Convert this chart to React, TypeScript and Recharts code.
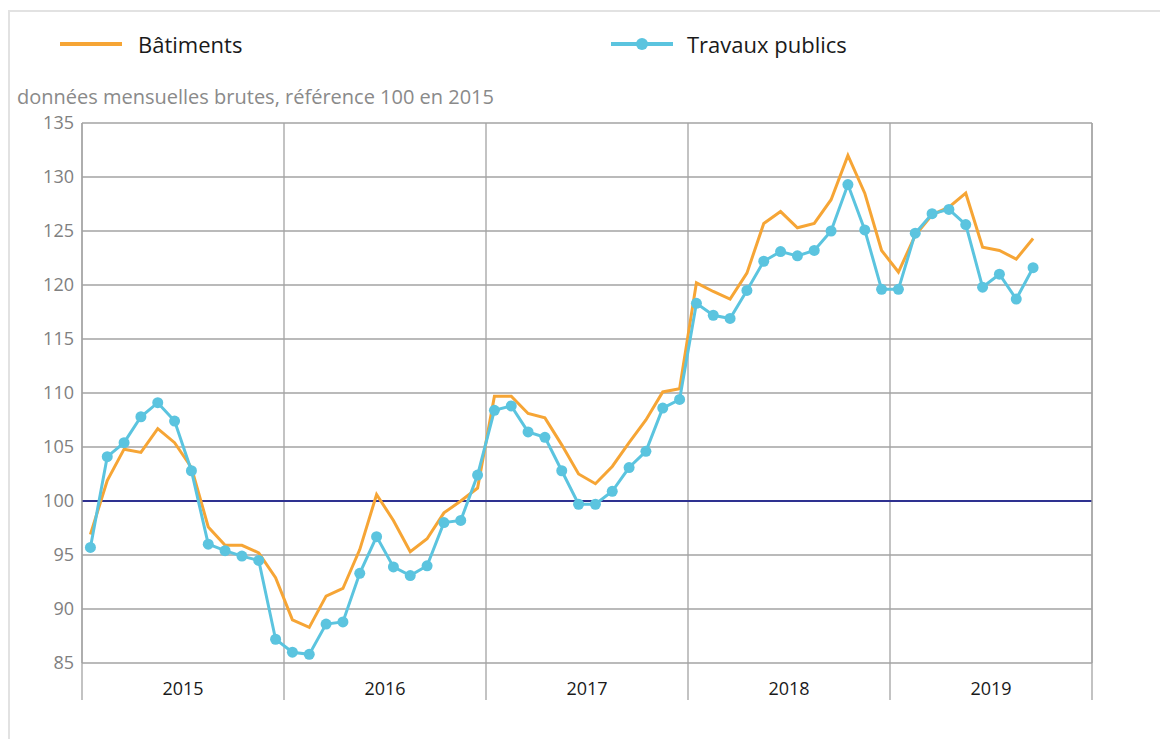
import React from "react";
import {
  LineChart,
  Line,
  XAxis,
  YAxis,
  CartesianGrid,
  ReferenceLine,
} from "recharts";

const years = ["2015", "2016", "2017", "2018", "2019"];

const batiments = [
  96.9, 101.9, 104.8, 104.5, 106.7, 105.4, 103.1, 97.6, 95.9, 95.9, 95.2, 92.9,
  89.0, 88.3, 91.2, 91.9, 95.5, 100.6, 98.2, 95.3, 96.5, 98.9, 100.0, 101.2,
  109.7, 109.7, 108.1, 107.7, 105.2, 102.5, 101.6, 103.2, 105.4, 107.5, 110.1, 110.4,
  120.2, 119.4, 118.7, 121.1, 125.7, 126.8, 125.3, 125.7, 127.9, 132.0, 128.5, 123.2,
  121.2, 124.6, 126.5, 127.2, 128.5, 123.5, 123.2, 122.4, 124.3,
];

const travauxPublics = [
  95.7, 104.1, 105.4, 107.8, 109.1, 107.4, 102.8, 96.0, 95.4, 94.9, 94.5, 87.2,
  86.0, 85.8, 88.6, 88.8, 93.3, 96.7, 93.9, 93.1, 94.0, 98.0, 98.2, 102.4,
  108.4, 108.8, 106.4, 105.9, 102.8, 99.7, 99.7, 100.9, 103.1, 104.6, 108.6, 109.4,
  118.3, 117.2, 116.9, 119.5, 122.2, 123.1, 122.7, 123.2, 125.0, 129.3, 125.1, 119.6,
  119.6, 124.8, 126.6, 127.0, 125.6, 119.8, 121.0, 118.7, 121.6,
];

const yTicks = [85, 90, 95, 100, 105, 110, 115, 120, 125, 130, 135];
const yearBoundaries = [0, 12, 24, 36, 48, 60];
const xTicks = [0, 6, 12, 18, 24, 30, 36, 42, 48, 54, 60];

const data = batiments.map((b, i) => ({
  x: i + 0.5,
  batiments: b,
  travaux: travauxPublics[i],
}));

const ORANGE = "#F6A535";
const BLUE = "#5BC4DF";
const NAVY = "#2E3190";
const GRID = "#a3a3a3";
const FONT = "'Open Sans', 'Noto Sans', sans-serif";

const YearTick = (props: any) => {
  const { x, y, payload } = props;
  const v = payload.value as number;
  if (v % 12 === 0) {
    return (
      <line x1={x} x2={x} y1={y} y2={y + 37} stroke={GRID} strokeWidth={1.3} />
    );
  }
  return (
    <text
      x={x}
      y={y + 25}
      textAnchor="middle"
      dominantBaseline="central"
      fill="#1a1a1a"
      fontSize={18}
      fontFamily={FONT}
    >
      {years[Math.floor(v / 12)]}
    </text>
  );
};

export default function App() {
  return (
    <div
      style={{
        position: "relative",
        width: 1152,
        height: 731,
        overflow: "hidden",
        fontFamily: FONT,
      }}
    >
      <div
        style={{
          position: "absolute",
          top: 2,
          left: 0,
          width: 1170,
          height: 760,
          borderTop: "2px solid #e2e2e2",
          borderLeft: "2px solid #e2e2e2",
          boxSizing: "border-box",
        }}
      />
      {/* Legend */}
      <div style={{ position: "absolute", top: 24, left: 52, height: 24, width: 1000 }}>
        <svg
          width={64}
          height={24}
          style={{ position: "absolute", left: 0, top: 0 }}
        >
          <line x1={0} y1={12} x2={62} y2={12} stroke={ORANGE} strokeWidth={4} />
        </svg>
        <div
          style={{
            position: "absolute",
            left: 78,
            top: 0,
            fontSize: 22,
            lineHeight: "24px",
            color: "#1a1a1a",
            whiteSpace: "nowrap",
          }}
        >
          Bâtiments
        </div>
        <svg
          width={64}
          height={24}
          style={{ position: "absolute", left: 551, top: 0 }}
        >
          <line x1={0} y1={12} x2={62} y2={12} stroke={BLUE} strokeWidth={4} />
          <circle cx={31} cy={12} r={6} fill={BLUE} />
        </svg>
        <div
          style={{
            position: "absolute",
            left: 627,
            top: 0,
            fontSize: 22,
            lineHeight: "24px",
            color: "#1a1a1a",
            whiteSpace: "nowrap",
          }}
        >
          Travaux publics
        </div>
      </div>
      {/* Subtitle */}
      <div
        style={{
          position: "absolute",
          top: 77,
          left: 9,
          fontSize: 20,
          lineHeight: "24px",
          color: "#8a8a8a",
          whiteSpace: "nowrap",
        }}
      >
        données mensuelles brutes, référence 100 en 2015
      </div>
      <div style={{ position: "absolute", top: 0, left: 0 }}>
        <LineChart
          width={1152}
          height={731}
          data={data}
          margin={{ top: 115, right: 0, bottom: 0, left: 0 }}
        >
          <CartesianGrid
            yAxisId="left"
            stroke={GRID}
            strokeWidth={1.3}
            vertical={false}
          />
          <XAxis
            dataKey="x"
            type="number"
            domain={[0, 60]}
            ticks={xTicks}
            interval={0}
            tick={YearTick}
            tickLine={false}
            tickSize={0}
            tickMargin={0}
            axisLine={false}
            height={76}
          />
          <YAxis
            yAxisId="left"
            orientation="left"
            domain={[85, 135]}
            ticks={yTicks}
            interval={0}
            width={74}
            tickLine={false}
            axisLine={{ stroke: GRID, strokeWidth: 1.3 }}
            tick={{ fill: "#808080", fontSize: 18, fontFamily: FONT }}
          />
          <YAxis
            yAxisId="right"
            orientation="right"
            domain={[85, 135]}
            ticks={yTicks}
            interval={0}
            width={68}
            tickLine={false}
            axisLine={{ stroke: GRID, strokeWidth: 1.3 }}
            tick={{ fill: "#808080", fontSize: 18, fontFamily: FONT, textAnchor: "start" }}
          />
          {yearBoundaries.map((b) => (
            <ReferenceLine
              key={b}
              yAxisId="left"
              x={b}
              stroke={GRID}
              strokeWidth={1.3}
            />
          ))}
          <ReferenceLine
            yAxisId="left"
            y={100}
            stroke={NAVY}
            strokeWidth={2}
          />
          <Line
            yAxisId="left"
            type="linear"
            dataKey="batiments"
            stroke={ORANGE}
            strokeWidth={3}
            dot={false}
            isAnimationActive={false}
          />
          <Line
            yAxisId="left"
            type="linear"
            dataKey="travaux"
            stroke={BLUE}
            strokeWidth={3}
            dot={{ r: 5.5, fill: BLUE, stroke: BLUE, strokeWidth: 0 }}
            isAnimationActive={false}
          />
        </LineChart>
      </div>
    </div>
  );
}
